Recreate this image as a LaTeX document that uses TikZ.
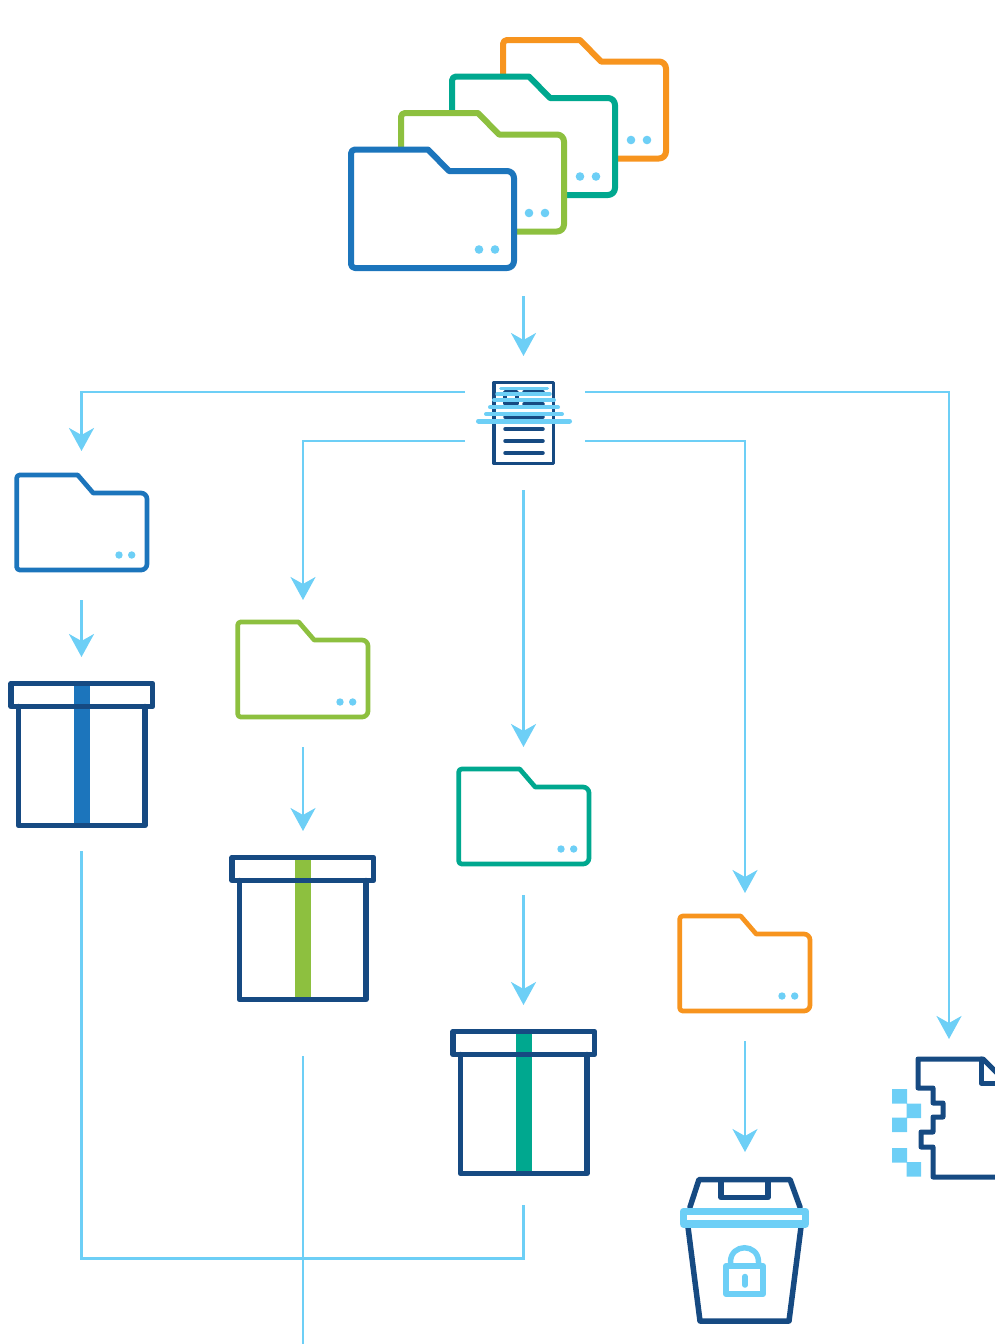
\documentclass[tikz,border=0pt]{standalone}
\usetikzlibrary{arrows.meta}
\definecolor{navy}{HTML}{164A82}
\definecolor{fblue}{HTML}{1C75BC}
\definecolor{fgreen}{HTML}{8DC03F}
\definecolor{fteal}{HTML}{00A88F}
\definecolor{forange}{HTML}{F7941E}
\definecolor{sky}{HTML}{6DCFF6}
\tikzset{
  flow/.style={draw=sky,line width=2.5pt,-{Stealth[length=23pt,width=25pt,inset=7pt]}},
  flowplain/.style={draw=sky,line width=2.5pt},
  icon/.style={draw=navy,line join=round,line cap=round},
  skyband/.style={draw=sky,line cap=round},
  skyfill/.style={fill=sky,draw=none}
}
% name, x, y, colour: large folder
\newcommand{\bigfolder}[4]{%
  \begin{scope}[shift={(#2,#3)}]
    \draw[draw=#4,fill=white,line width=6pt,line join=round]
      (0,0) -- (77,0) -- (98,21.5) [rounded corners=7pt] -- (163,21.5) -- (163,118.5) [rounded corners=4pt] -- (0,118.5) -- cycle;
    \fill[sky] (128,100) circle (4.3pt) (144,100) circle (4.3pt);
    \coordinate (#1) at (81.5,59);
  \end{scope}}
% name, x, y, colour: small folder
\newcommand{\smallfolder}[4]{%
  \begin{scope}[shift={(#2,#3)}]
    \draw[draw=#4,fill=white,line width=4.7pt,line join=round]
      (0,0) -- (61,0) -- (76.5,18) [rounded corners=6pt] -- (130.3,18) -- (130.3,95) [rounded corners=3pt] -- (0,95) -- cycle;
    \fill[sky] (102.3,80) circle (3.7pt) (115,80) circle (3.7pt);
    \coordinate (#1) at (65,47);
  \end{scope}}
% name, x, y, ribbon colour: gift box
\newcommand{\giftbox}[4]{%
  \begin{scope}[shift={(#2,#3)}]
    \fill[#4] (63,1) rectangle (79,141);
    \draw[icon,line width=5.5pt] (7.5,23) -- (7.5,142) -- (134,142) -- (134,23);
    \draw[icon,line width=5.5pt] (0,0) rectangle (141.5,23);
    \coordinate (#1) at (71,71);
  \end{scope}}
\begin{document}
\begin{tikzpicture}[x=1pt,y=-1pt]
\useasboundingbox (0,0) rectangle (995,1344);
\clip (0,0) rectangle (995,1344);

% stacked folders
\bigfolder{stackd}{503}{40}{forange}
\bigfolder{stackc}{452}{76.5}{fteal}
\bigfolder{stackb}{401}{113}{fgreen}
\bigfolder{stacka}{351}{149.5}{fblue}

% scanned document
\draw[icon,line width=3.5pt] (494,382.5) rectangle (553.5,463.5);
\draw[icon,line width=3.5pt] (505,392) rectangle (517,404);
\foreach \yy in {392,404}{\draw[icon,line width=3.5pt] (524,\yy) -- (543,\yy);}
\foreach \yy in {417,429,441,453}{\draw[icon,line width=3.5pt] (505,\yy) -- (543,\yy);}
\draw[skyband,line width=3pt] (500.5,388.5) -- (547.5,388.5);
\draw[skyband,line width=3.5pt] (497,394) -- (550,394);
\draw[skyband,line width=4pt] (494,400) -- (554,400);
\draw[skyband,line width=4pt] (490,407.3) -- (558,407.3);
\draw[skyband,line width=4pt] (486,414) -- (562,414);
\draw[skyband,line width=5pt] (478.5,421) -- (569.5,421);

% folders
\smallfolder{fa}{16.7}{475}{fblue}
\smallfolder{fb}{237.7}{622}{fgreen}
\smallfolder{fc}{458.7}{769}{fteal}
\smallfolder{fd}{679.7}{916}{forange}

% gift boxes
\giftbox{ga}{11}{683.5}{fblue}
\giftbox{gb}{232}{857.5}{fgreen}
\giftbox{gc}{453}{1031.5}{fteal}

% shredded document
\draw[icon,line width=5pt]
  (1005,1081) -- (983,1059) -- (918,1059) -- (918,1088) -- (933,1088) -- (933,1103) -- (943,1103)
  -- (943,1117) -- (933,1117) -- (933,1132) -- (921,1132) -- (921,1147) -- (933,1147)
  -- (933,1177) -- (1005,1177);
\draw[icon,line width=5pt] (981,1059) -- (981,1083) -- (1005,1083);
\fill[sky] (892,1089) rectangle (907,1103.5) (906.5,1103.5) rectangle (921,1118)
  (892,1117.5) rectangle (907,1132) (892,1148) rectangle (907,1162.5) (906.5,1162) rectangle (921,1176.5);

% locked bin
\draw[icon,line width=5.5pt] (690,1207) -- (699,1179.5) -- (790,1179.5) -- (800,1207);
\draw[icon,line width=5.5pt] (721,1180) -- (721,1197.5) -- (768,1197.5) -- (768,1180);
\draw[icon,line width=5.5pt] (688,1227) -- (700,1321) -- (789,1321) -- (801,1227);
\draw[draw=sky,line width=7.5pt,line join=round] (683.5,1211.5) rectangle (805.5,1224);
\draw[draw=sky,line width=6pt,line join=round] (726,1266) rectangle (763,1294);
\draw[draw=sky,line width=5.5pt] (730.5,1266) -- (730.5,1262) .. controls (730.5,1243) and (758.5,1243) .. (758.5,1262) -- (758.5,1266);
\draw[draw=sky,line width=5.5pt,line cap=round] (745,1276.5) -- (745,1285);

% connector end points
\coordinate (stackout) at (523.5,296);
\coordinate (docin) at (523.5,356);
\coordinate (docla) at (465,392);
\coordinate (doclb) at (465,441);
\coordinate (docra) at (585,392);
\coordinate (docrb) at (585,441);
\coordinate (docb) at (523.5,490);
\coordinate (fain) at (81.5,451);
\coordinate (fbin) at (303,600);
\coordinate (fcin) at (523.5,747);
\coordinate (fdin) at (745,893);
\coordinate (shin) at (949,1039);
\coordinate (faout) at (81.5,600);
\coordinate (fbout) at (303,747);
\coordinate (fcout) at (523.5,895);
\coordinate (fdout) at (745,1041);
\coordinate (gain) at (81.5,657);
\coordinate (gbin) at (303,831);
\coordinate (gcin) at (523.5,1005);
\coordinate (binin) at (745,1152);
\coordinate (gaout) at (81.5,851);
\coordinate (gbout) at (303,1056);
\coordinate (gcout) at (523.5,1205);
\coordinate (lowa) at (81.5,1258.5);
\coordinate (lowc) at (523.5,1258.5);
\coordinate (exit) at (303,1344);

% connectors
\draw[flow] (stackout) -- (docin);
\draw[flow] (docla) -| (fain);
\draw[flow] (doclb) -| (fbin);
\draw[flow] (docb) -- (fcin);
\draw[flow] (docrb) -| (fdin);
\draw[flow] (docra) -| (shin);
\draw[flow] (faout) -- (gain);
\draw[flow] (fbout) -- (gbin);
\draw[flow] (fcout) -- (gcin);
\draw[flow] (fdout) -- (binin);
\draw[flowplain] (gaout) -- (lowa) -- (lowc) -- (gcout);
\draw[flowplain] (gbout) -- (exit);
\end{tikzpicture}
\end{document}
